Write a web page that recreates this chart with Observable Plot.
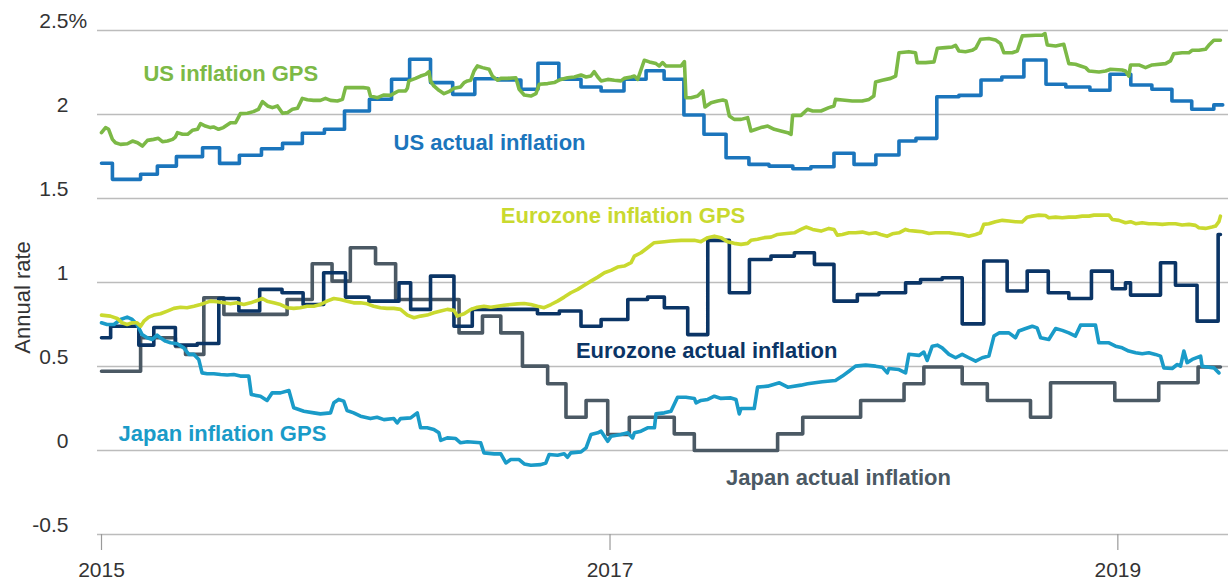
<!DOCTYPE html>
<html><head><meta charset="utf-8">
<script src="https://cdn.jsdelivr.net/npm/d3@7"></script>
<script src="https://cdn.jsdelivr.net/npm/@observablehq/plot@0.6"></script>
<style>
body{margin:0;background:#fff;}
#chart{width:1228px;height:580px;overflow:hidden;}
</style>
</head><body><div id="chart"></div>
<script>
// ---- data: [years since 2015, annual rate %] ----
const yTicks = [-0.5, 0, 0.5, 1, 1.5, 2, 2.5];
const yTickLabels = ["-0.5", "0", "0.5", "1", "1.5", "2", "2.5"];
const xTickYears = [2015, 2017, 2019];
const xDomainYears = [2014.98425, 2019.4358];
const yAxisTitle = "Annual rate";
const yAxisTitlePos = [2014.689, 0.911];

const usGps = [[0,1.892],[.016,1.922],[.028,1.912],[.043,1.852],[.055,1.832],[.075,1.822],[.102,1.826],[.122,1.842],[.142,1.832],[.161,1.812],[.181,1.846],[.205,1.852],[.224,1.858],[.240,1.838],[.260,1.842],[.280,1.852],[.291,1.866],[.299,1.892],[.319,1.882],[.339,1.882],[.358,1.906],[.378,1.912],[.390,1.945],[.409,1.931],[.429,1.922],[.441,1.926],[.461,1.912],[.480,1.922],[.508,1.951],[.528,1.951],[.547,2.005],[.575,2.007],[.598,2.017],[.618,2.031],[.634,2.077],[.654,2.051],[.673,2.041],[.693,2.051],[.713,2.007],[.732,2.011],[.752,2.031],[.772,2.037],[.791,2.096],[.811,2.088],[.835,2.084],[.862,2.084],[.882,2.096],[.902,2.084],[.929,2.080],[.949,2.090],[.961,2.160],[.992,2.160],[1.031,2.160],[1.051,2.156],[1.059,2.110],[1.087,2.100],[1.110,2.116],[1.138,2.114],[1.157,2.130],[1.169,2.140],[1.197,2.140],
[1.204,2.156],[1.210,2.200],[1.236,2.215],[1.256,2.229],[1.276,2.239],[1.289,2.255],[1.295,2.200],[1.308,2.170],[1.328,2.144],[1.348,2.124],[1.367,2.136],[1.387,2.156],[1.413,2.164],[1.427,2.190],[1.440,2.200],[1.453,2.204],[1.466,2.259],[1.479,2.289],[1.499,2.279],[1.525,2.269],[1.538,2.229],[1.558,2.204],[1.571,2.215],[1.597,2.215],[1.630,2.219],[1.643,2.150],[1.663,2.116],[1.689,2.110],[1.709,2.124],[1.722,2.180],[1.755,2.184],[1.781,2.190],[1.794,2.200],[1.807,2.209],[1.833,2.219],[1.860,2.223],[1.886,2.235],[1.906,2.223],[1.925,2.229],[1.938,2.255],[1.952,2.223],[1.965,2.200],[1.991,2.209],[2.017,2.204],[2.043,2.200],[2.056,2.215],[2.083,2.223],[2.096,2.229],[2.109,2.209],[2.135,2.323],[2.155,2.313],[2.181,2.303],[2.194,2.289],[2.207,2.309],[2.220,2.289],[2.253,2.289],[2.280,2.289],[2.293,2.315],[2.299,2.100],[2.319,2.100],[2.345,2.110],[2.365,2.140],[2.374,2.045],[2.398,2.070],[2.424,2.080],[2.444,2.086],[2.457,2.080],[2.470,1.991],[2.489,1.971],[2.516,1.971],[2.542,1.981],[2.555,1.902],[2.575,1.912],[2.594,1.922],[2.621,1.931],[2.647,1.912],[2.673,1.902],[2.700,1.892],[2.713,1.882],[2.719,1.995],[2.752,1.995],[2.778,2.031],[2.798,2.021],[2.831,2.021],
[2.862,2.041],[2.882,2.051],[2.888,2.090],[2.915,2.086],[2.954,2.080],[2.993,2.080],[3.020,2.090],[3.039,2.110],[3.046,2.194],[3.072,2.204],[3.105,2.215],[3.125,2.229],[3.138,2.368],[3.177,2.374],[3.203,2.368],[3.210,2.309],[3.243,2.309],[3.276,2.313],[3.289,2.394],[3.321,2.398],[3.348,2.402],[3.361,2.412],[3.374,2.378],[3.400,2.374],[3.426,2.382],[3.440,2.394],[3.459,2.448],[3.492,2.452],[3.518,2.444],[3.538,2.422],[3.551,2.368],[3.584,2.368],[3.604,2.378],[3.624,2.468],[3.676,2.472],[3.702,2.472],[3.713,2.482],[3.722,2.414],[3.755,2.408],[3.787,2.418],[3.807,2.303],[3.833,2.299],[3.853,2.289],[3.873,2.279],[3.886,2.259],[3.926,2.253],[3.952,2.259],[3.971,2.269],[4.017,2.265],[4.030,2.259],[4.043,2.229],[4.050,2.295],[4.083,2.295],[4.109,2.279],[4.135,2.295],[4.188,2.303],[4.207,2.319],[4.220,2.362],[4.253,2.368],[4.280,2.368],[4.293,2.382],[4.319,2.382],[4.345,2.388],[4.358,2.412],[4.378,2.442],[4.404,2.442]];

const usActual = [[0,1.71],[.043,1.614],[.154,1.644],[.220,1.693],[.295,1.749],[.398,1.802],[.465,1.709],[.543,1.757],[.630,1.796],[.713,1.828],[.791,1.888],[.878,1.912],[.957,2.021],[1.055,2.091],[1.142,2.210],[1.213,2.329],[1.295,2.190],[1.382,2.120],[1.469,2.213],[1.559,2.205],[1.650,2.150],[1.717,2.305],[1.799,2.210],[1.886,2.164],[1.965,2.140],[2.055,2.210],[2.142,2.260],[2.213,2.210],[2.291,1.997],[2.370,1.882],[2.457,1.743],[2.547,1.703],[2.626,1.693],[2.720,1.677],[2.791,1.689],[2.882,1.769],[2.961,1.703],[3.047,1.759],[3.138,1.842],[3.205,1.858],[3.287,2.106],[3.374,2.114],[3.461,2.205],[3.543,2.223],[3.630,2.324],[3.717,2.180],[3.795,2.164],[3.890,2.144],[3.969,2.240],[4.051,2.176],[4.134,2.150],[4.213,2.080],[4.291,2.031],[4.378,2.057],[4.413,2.057]];

const euGps = [[0,.806],[.035,.800],[.062,.786],[.081,.760],[.101,.750],[.121,.760],[.140,.760],[.154,.740],[.167,.770],[.186,.794],[.206,.806],[.232,.814],[.259,.830],[.285,.846],[.311,.853],[.337,.850],[.364,.859],[.390,.869],[.409,.879],[.429,.889],[.455,.885],[.482,.879],[.508,.873],[.534,.879],[.560,.869],[.587,.879],[.613,.893],[.633,.905],[.652,.889],[.678,.879],[.705,.869],[.731,.850],[.757,.846],[.783,.850],[.810,.859],[.836,.859],[.862,.869],[.888,.889],[.915,.905],[.941,.899],[.967,.889],[.993,.879],[1.020,.879],[1.046,.873],[1.072,.859],[1.098,.850],[1.124,.846],[1.151,.846],[1.177,.840],
[1.204,.806],[1.230,.790],[1.256,.800],[1.282,.806],[1.308,.820],[1.335,.830],[1.361,.840],[1.387,.834],[1.400,.800],[1.427,.814],[1.453,.840],[1.479,.853],[1.505,.859],[1.532,.853],[1.558,.859],[1.584,.865],[1.610,.869],[1.636,.873],[1.663,.875],[1.689,.869],[1.715,.859],[1.741,.850],[1.768,.869],[1.794,.889],[1.820,.913],[1.846,.939],[1.873,.959],[1.899,.984],[1.925,1.008],[1.952,1.032],[1.978,1.058],[2.004,1.072],[2.030,1.092],[2.056,1.098],[2.083,1.118],[2.096,1.157],[2.122,1.177],[2.148,1.207],[2.174,1.237],[2.214,1.243],[2.240,1.247],[2.280,1.251],[2.306,1.251],[2.332,1.251],[2.358,1.243],[2.385,1.267],[2.411,1.276],[2.437,1.267],[2.463,1.243],[2.489,1.233],[2.516,1.227],[2.542,1.233],[2.555,1.251],[2.581,1.257],[2.608,1.267],[2.634,1.270],[2.660,1.286],[2.686,1.290],[2.726,1.296],[2.752,1.316],[2.772,1.330],[2.798,1.316],[2.831,1.306],
[2.862,1.322],[2.882,1.316],[2.895,1.282],[2.915,1.286],[2.941,1.296],[2.967,1.296],[2.994,1.300],[3.020,1.290],[3.046,1.296],[3.066,1.286],[3.092,1.276],[3.112,1.290],[3.138,1.296],[3.164,1.316],[3.177,1.310],[3.203,1.306],[3.230,1.302],[3.256,1.292],[3.282,1.296],[3.308,1.296],[3.335,1.296],[3.361,1.290],[3.387,1.286],[3.413,1.276],[3.440,1.286],[3.459,1.296],[3.472,1.346],[3.492,1.350],[3.518,1.362],[3.545,1.370],[3.571,1.366],[3.597,1.362],[3.623,1.360],[3.643,1.389],[3.663,1.395],[3.689,1.401],[3.715,1.399],[3.728,1.385],[3.755,1.389],[3.781,1.385],[3.807,1.389],[3.833,1.389],[3.860,1.395],[3.886,1.395],[3.906,1.401],[3.938,1.401],[3.965,1.401],[3.978,1.375],[4.004,1.370],[4.030,1.356],[4.050,1.362],[4.070,1.350],[4.096,1.356],[4.122,1.350],[4.148,1.350],[4.175,1.346],[4.201,1.350],[4.227,1.350],[4.253,1.342],[4.280,1.346],[4.306,1.340],[4.319,1.326],[4.345,1.322],[4.371,1.330],[4.385,1.336],[4.398,1.362],[4.404,1.395]];

const euActual = [[0,.671],[.036,.740],[.147,.627],[.206,.732],[.291,.627],[.377,.637],[.462,.905],[.541,.830],[.623,.959],[.711,.939],[.794,.869],[.875,1.058],[.961,.913],[1.053,.889],[1.171,.998],[1.217,.840],[1.295,1.038],[1.387,.740],[1.459,.840],[1.715,.814],[1.801,.830],[1.886,.740],[1.965,.780],[2.070,.899],[2.148,.913],[2.214,.850],[2.306,.690],[2.385,1.251],[2.470,.939],[2.549,1.137],[2.634,1.157],[2.726,1.177],[2.805,1.108],[2.882,.889],[2.974,.928],[3.059,.939],[3.164,.998],[3.223,1.018],[3.308,1.028],[3.387,.754],[3.472,1.128],[3.564,.949],[3.643,1.068],[3.726,.939],[3.807,.905],[3.896,1.068],[3.978,.963],[4.030,.998],[4.050,.925],[4.168,1.118],[4.227,.984],[4.312,.770],[4.395,1.286],[4.404,1.286]];

const jpGps = [[0,.760],[.022,.750],[.049,.750],[.075,.780],[.101,.794],[.121,.780],[.140,.750],[.160,.690],[.180,.671],[.200,.661],[.219,.687],[.232,.671],[.252,.651],[.272,.641],[.298,.635],[.324,.611],[.344,.572],[.364,.572],[.383,.542],[.396,.462],[.416,.457],[.442,.457],[.469,.452],[.495,.449],[.521,.452],[.547,.443],[.580,.443],[.590,.333],[.626,.323],[.652,.298],[.672,.343],[.705,.343],[.738,.357],[.757,.254],[.797,.234],[.836,.224],[.862,.218],[.902,.224],[.915,.284],[.934,.304],[.954,.294],[.967,.238],[.993,.224],[1.020,.204],[1.059,.190],[1.085,.198],[1.112,.184],[1.151,.190],[1.164,.164],[1.177,.190],
[1.217,.194],[1.243,.224],[1.256,.135],[1.282,.135],[1.308,.125],[1.328,.105],[1.335,.060],[1.361,.075],[1.394,.071],[1.413,.046],[1.440,.052],[1.492,.046],[1.505,-.014],[1.545,-.020],[1.571,-.020],[1.591,-.074],[1.610,-.054],[1.643,-.054],[1.663,-.080],[1.689,-.088],[1.728,-.084],[1.748,-.074],[1.761,-.024],[1.794,-.028],[1.820,-.020],[1.833,-.040],[1.846,-.014],[1.886,-.008],[1.906,.016],[1.925,.095],[1.952,.105],[1.965,.115],[1.991,.055],[2.004,.085],[2.043,.095],[2.070,.105],[2.089,.075],[2.096,.105],[2.122,.115],[2.148,.135],[2.175,.135],[2.181,.218],[2.214,.224],[2.240,.234],[2.266,.317],[2.299,.317],[2.332,.310],[2.339,.284],[2.358,.298],[2.385,.304],[2.411,.323],[2.437,.310],[2.476,.313],[2.496,.304],[2.509,.218],[2.516,.250],[2.568,.250],[2.581,.377],[2.621,.383],[2.667,.403],[2.700,.377],[2.752,.389],[2.778,.397],
[2.836,.409],[2.888,.417],[2.915,.443],[2.941,.472],[2.967,.502],[3.007,.508],[3.046,.502],[3.072,.496],[3.092,.462],[3.098,.488],[3.138,.482],[3.164,.462],[3.177,.573],[3.217,.566],[3.236,.586],[3.249,.536],[3.269,.621],[3.289,.627],[3.308,.611],[3.335,.572],[3.361,.552],[3.387,.572],[3.413,.552],[3.440,.532],[3.466,.552],[3.492,.562],[3.512,.681],[3.532,.700],[3.571,.700],[3.597,.671],[3.610,.711],[3.637,.726],[3.663,.740],[3.682,.730],[3.696,.671],[3.728,.661],[3.755,.726],[3.781,.715],[3.807,.700],[3.833,.681],[3.853,.746],[3.886,.746],[3.912,.746],[3.925,.641],[3.965,.641],[3.991,.621],[4.017,.611],[4.043,.592],[4.070,.582],[4.096,.576],[4.122,.582],[4.148,.572],[4.168,.562],[4.181,.492],[4.214,.488],[4.234,.512],[4.247,.502],[4.260,.592],[4.273,.523],[4.293,.542],[4.326,.562],[4.332,.502],[4.358,.496],[4.378,.492],[4.398,.462]];

const jpActual = [[0,.472],[.154,.671],[.291,.620],[.331,.572],[.403,.909],[.482,.810],[.731,.899],[.830,1.112],[.908,1.008],[.980,1.207],[1.079,1.112],[1.158,.899],[1.407,.700],[1.499,.800],[1.571,.700],[1.656,.502],[1.755,.397],[1.827,.198],[1.906,.298],[1.991,.095],[2.076,.198],[2.253,.099],[2.332,0],[2.660,.099],[2.759,.198],[2.987,.298],[3.158,.397],[3.236,.497],[3.387,.397],[3.486,.298],[3.656,.198],[3.735,.403],[3.988,.298],[4.161,.403],[4.316,.497],[4.404,.497]];

// drawing order (bottom to top)
const seriesData  = [jpActual, euActual, jpGps, euGps, usActual, usGps];
const seriesColor = ["#4b5964", "#0b3566", "#1a9bc8", "#c9d92f", "#1b75bc", "#7cb946"];
const seriesStep  = [true, true, false, false, true, false];

const labelText  = ["US inflation GPS", "US actual inflation", "Eurozone inflation GPS", "Eurozone actual inflation", "Japan inflation GPS", "Japan actual inflation"];
const labelT     = [2015.165, 2016.150, 2016.571, 2016.866, 2015.067, 2017.457];
const labelV     = [2.244, 1.833, 1.399, 0.595, 0.101, -0.161];
const labelColor = ["#7cb946", "#1b75bc", "#c9d92f", "#0b3566", "#1a9bc8", "#4b5964"];

// ---- helpers ----
function toDate(t) {
  const y = Math.floor(t);
  const a = Date.UTC(y, 0, 1), b = Date.UTC(y + 1, 0, 1);
  return new Date(a + (t - y) * (b - a));
}
const base = 2015;

const lineMarks = seriesData.map((s, i) => Plot.line(s, {
  x: d => toDate(base + d[0]),
  y: d => d[1],
  stroke: seriesColor[i],
  strokeWidth: 3.6,
  curve: seriesStep[i] ? "step-after" : "linear",
  strokeLinejoin: "round"
}));

const labels = labelText.map((t, i) => ({text: t, x: toDate(labelT[i]), y: labelV[i], c: labelColor[i]}));

const chart = Plot.plot({
  width: 1228,
  height: 580,
  marginLeft: 97,
  marginRight: 0,
  marginTop: 30,
  marginBottom: 46,
  style: {fontFamily: "'Liberation Sans', Arial, sans-serif", fontSize: "21px", background: "#fff", color: "#333"},
  x: {type: "utc", domain: xDomainYears.map(toDate)},
  y: {domain: [-0.5, 2.5], axis: null},
  marks: [
    Plot.ruleY(yTicks, {stroke: "#bcbcbc", strokeWidth: 1.5}),
    Plot.axisX(xTickYears.map(y => toDate(y)), {
      tickSize: 16, tickPadding: 12, tickFormat: d3.utcFormat("%Y"),
      stroke: "#9a9a9a", strokeWidth: 1.2, fill: "#333", fontSize: 21, label: null
    }),
    Plot.text(yTicks, {frameAnchor: "left", y: d => d, text: (d, i) => yTickLabels[i], textAnchor: "end", dx: -29, dy: -9, fontSize: 21, fill: "#333"}),
    Plot.text(["%"], {frameAnchor: "left", y: [2.5], text: d => d, textAnchor: "start", dx: -29, dy: -9, fontSize: 21, fill: "#333"}),
    Plot.text([yAxisTitle], {x: [toDate(yAxisTitlePos[0])], y: [yAxisTitlePos[1]], text: d => d, rotate: -90, fontSize: 22, fill: "#333"}),
    ...lineMarks,
    Plot.text(labels, {x: "x", y: "y", text: "text", fill: "c", textAnchor: "start", fontSize: 22, fontWeight: "bold"})
  ]
});
document.getElementById("chart").appendChild(chart);
</script>
</body></html>
